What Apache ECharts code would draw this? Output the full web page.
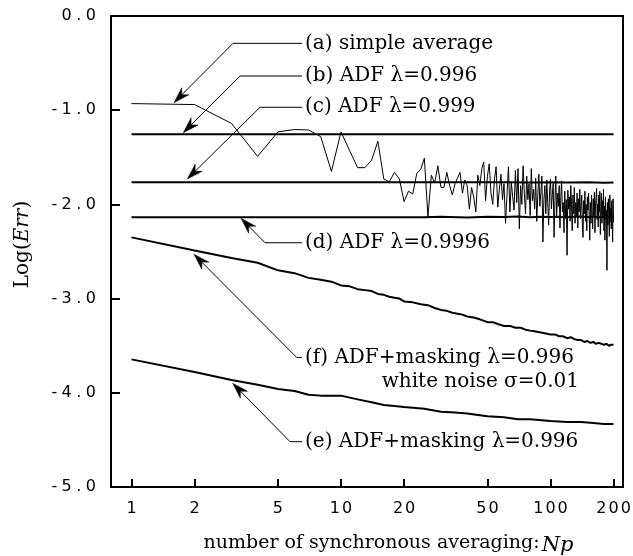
<!DOCTYPE html>
<html>
<head>
<meta charset="utf-8">
<script src="https://cdn.jsdelivr.net/npm/echarts@6/dist/echarts.min.js"></script>
<style>html,body{margin:0;padding:0;background:#fff}#c{width:633px;height:556px}</style>
</head>
<body>
<div id="c"></div>
<script>
// ---------- data ----------
const xTickLabels = [1, 2, 5, 10, 20, 50, 100, 200];
const yTickLabels = [-5, -4, -3, -2, -1, 0];

// (a) simple average, Np = 1..200
const seriesA = [
 -0.93,-0.94,-1.14,-1.49,-1.23,-1.205,-1.21,-1.28,-1.65,-1.23,
 -1.43,-1.61,-1.61,-1.53,-1.33,-1.73,-1.76,-1.66,-1.73,-1.97,
 -1.86,-1.89,-1.67,-1.63,-1.51,-2.13,-1.69,-1.77,-1.59,-1.82,
 -1.82,-1.66,-1.80,-1.90,-1.78,-1.72,-1.66,-1.88,-1.74,-1.80,
 -2.05,-1.82,-1.92,-2.08,-1.69,-1.80,-1.62,-1.55,-1.96,-1.70,
 -1.57,-1.88,-2.00,-1.74,-1.60,-2.03,-1.84,-1.68,-1.95,-1.78,
 -2.20,-1.90,-1.60,-2.08,-1.76,-1.92,-2.06,-1.64,-1.98,-1.62,
 -2.26,-1.80,-2.00,-1.59,-1.88,-2.10,-1.70,-1.95,-1.78,-2.12,
 -1.62,-1.96,-1.84,-2.05,-1.72,-2.18,-1.90,-1.68,-2.02,-1.86,
 -1.70,-2.40,-1.95,-1.80,-2.10,-1.74,-1.98,-2.22,-1.85,-1.73,
 -2.05,-1.90,-1.78,-2.35,-1.96,-1.70,-2.12,-1.88,-2.02,-1.80,
 -2.25,-1.92,-1.75,-2.08,-1.98,-2.30,-1.86,-2.15,-1.95,-2.54,
 -1.85,-2.05,-1.92,-2.18,-1.80,-2.00,-2.28,-1.90,-2.10,-1.82,
 -2.20,-1.98,-2.12,-1.88,-2.25,-1.94,-2.08,-1.84,-2.15,-2.02,
 -1.90,-2.22,-2.35,-1.96,-2.10,-1.86,-2.18,-2.00,-2.28,-1.92,
 -2.06,-1.88,-2.14,-2.38,-1.98,-2.20,-1.90,-2.10,-2.26,-1.94,
 -2.12,-1.87,-2.30,-2.02,-1.92,-1.83,-2.16,-2.00,-2.24,-1.90,
 -2.08,-1.86,-2.32,-2.04,-1.88,-2.20,-1.96,-2.12,-1.84,-2.28,
 -2.02,-2.38,-1.92,-2.16,-2.06,-2.70,-1.98,-2.22,-1.94,-2.12,
 -2.34,-1.90,-2.18,-2.04,-2.26,-1.96,-2.14,-2.40,-1.94,-2.19
];

// (b) ADF λ=0.996
const npB = [1, 200];
const seriesB = [-1.255, -1.255];

// (c) ADF λ=0.999
const npC = [1, 20, 40, 60, 80, 100, 120, 150, 180, 200];
const seriesC = [-1.765, -1.765, -1.766, -1.764, -1.767, -1.765, -1.768, -1.766, -1.769, -1.767];

// (d) ADF λ=0.9996
const npD = [1, 25, 30, 40, 50, 60, 70, 80, 90, 100, 110, 120, 130, 140, 150, 160, 170, 180, 190, 200];
const seriesD = [-2.137, -2.137, -2.132, -2.138, -2.131, -2.134, -2.129, -2.136, -2.131, -2.134,
                 -2.130, -2.136, -2.132, -2.129, -2.134, -2.131, -2.136, -2.130, -2.133, -2.131];

// (f) ADF+masking λ=0.996, white noise σ=0.01
const npF = [1,2,3,4,5,6,7,8,9,10,11,12,13,14,15,16,17,18,19,20,
             22,24,26,28,30,32,34,36,38,40,43,46,50,53,56,60,64,68,72,76,80,
             85,90,95,100,105,110,115,120,125,130,135,140,145,150,155,160,165,170,175,180,185,190,195,200];
const seriesF = [-2.35,-2.49,-2.57,-2.62,-2.70,-2.73,-2.78,-2.80,-2.82,-2.86,
                 -2.87,-2.90,-2.91,-2.92,-2.95,-2.96,-2.98,-2.99,-3.00,-3.03,
                 -3.04,-3.06,-3.07,-3.10,-3.12,-3.13,-3.15,-3.16,-3.17,-3.19,
                 -3.20,-3.22,-3.25,-3.25,-3.27,-3.29,-3.29,-3.31,-3.31,-3.33,-3.34,
                 -3.35,-3.36,-3.37,-3.38,-3.38,-3.40,-3.40,-3.42,-3.41,-3.43,-3.44,-3.44,
                 -3.46,-3.45,-3.47,-3.46,-3.48,-3.47,-3.48,-3.49,-3.48,-3.50,-3.49,-3.49];

// (e) ADF+masking λ=0.996
const npE = [1,2,3,4,5,6,7,8,9,10,12,14,16,18,20,25,30,35,40,50,60,70,80,100,120,140,160,180,200];
const seriesE = [-3.645,-3.78,-3.865,-3.915,-3.96,-3.98,-4.02,-4.03,-4.03,-4.03,
                 -4.07,-4.10,-4.13,-4.14,-4.15,-4.17,-4.20,-4.21,-4.22,-4.25,
                 -4.26,-4.28,-4.28,-4.30,-4.31,-4.31,-4.32,-4.33,-4.33];

// annotations (data coordinates: [Np, Log(Err)])
const annotations = [
  { lines: ['(a) simple average'], tip: [1.595, -0.92], elbow: [3.051, -0.29], end: [6.514, -0.29] },
  { lines: ['(b) ADF λ=0.996'], tip: [1.767, -1.239], elbow: [3.295, -0.637], end: [6.514, -0.637] },
  { lines: ['(c) ADF λ=0.999'], tip: [1.846, -1.73], elbow: [4.107, -0.969], end: [6.514, -0.969] },
  { lines: ['(d) ADF λ=0.9996'], tip: [3.332, -2.148], elbow: [4.337, -2.407], end: [6.514, -2.407] },
  { lines: ['(f) ADF+masking λ=0.996', 'white noise σ=0.01'], second: [15.64, -3.882], tip: [1.988, -2.53], elbow: [6.145, -3.625], end: [6.514, -3.625] },
  { lines: ['(e) ADF+masking λ=0.996'], tip: [3.041, -3.899], elbow: [5.708, -4.519], end: [6.514, -4.519] }
];

// ---------- chart ----------
const pairs = (xs, ys) => xs.map((x, i) => [x, ys[i]]);
const dataA = seriesA.map((v, i) => [i + 1, v]);

const SERIF = '"DejaVu Serif", serif';
const SANS = '"DejaVu Sans", sans-serif';
const charRich = { c: { width: 12.2, align: 'center', fontFamily: SANS, fontSize: 16, color: '#000' } };
const spread = s => s.split('').map(ch => '{c|' + ch + '}').join('');

const chart = echarts.init(document.getElementById('c'), null, { renderer: 'canvas' });
const lineSeries = (name, data, w) => ({
  name, type: 'line', data, symbol: 'none', animation: false,
  lineStyle: { color: '#000', width: w }, z: 3
});

chart.setOption({
  backgroundColor: '#fff',
  animation: false,
  grid: { left: 111, right: 10, top: 16, bottom: 69, show: true, borderColor: '#000', borderWidth: 2, containLabel: false, outerBoundsMode: 'none' },
  xAxis: {
    type: 'log', logBase: 10, min: 0.798, max: 221.9,
    axisLine: { show: true, onZero: false, lineStyle: { color: '#000', width: 2 } },
    axisTick: { show: true, inside: true, length: 8, lineStyle: { color: '#000', width: 2 }, customValues: xTickLabels },
    axisLabel: { show: true, margin: 14, fontSize: 16, fontFamily: SANS, color: '#000', customValues: xTickLabels, formatter: v => spread(String(Math.round(v))), rich: charRich },
    minorTick: { show: false }, splitLine: { show: false },
    name: '{a|number of synchronous averaging:}{b|Np}',
    nameLocation: 'middle', nameGap: 44,
    nameTextStyle: {
      padding: [0, 0, 0, 43],
      rich: {
        a: { fontFamily: SERIF, fontSize: 19, color: '#000' },
        b: { fontFamily: SERIF, fontSize: 21, fontStyle: 'italic', color: '#000', padding: [4, 0, 0, 2] }
      }
    }
  },
  yAxis: {
    type: 'value', min: -5, max: 0, interval: 1,
    axisLine: { show: true, onZero: false, lineStyle: { color: '#000', width: 2 } },
    axisTick: { show: true, inside: true, length: 9, lineStyle: { color: '#000', width: 2 } },
    axisLabel: { margin: 14, fontSize: 16, fontFamily: SANS, color: '#000', formatter: v => spread(v.toFixed(1)), rich: charRich },
    splitLine: { show: false },
    name: '{a|Log(}{b|Err}{a|)}',
    nameLocation: 'middle', nameRotate: 90, nameGap: 78,
    nameTextStyle: {
      padding: [0, 0, 0, 14],
      rich: {
        a: { fontFamily: SERIF, fontSize: 20, color: '#000' },
        b: { fontFamily: SERIF, fontSize: 20, fontStyle: 'italic', color: '#000' }
      }
    }
  },
  series: [
    lineSeries('a', dataA, 1),
    lineSeries('b', pairs(npB, seriesB), 2),
    lineSeries('c', pairs(npC, seriesC), 2),
    lineSeries('d', pairs(npD, seriesD), 2),
    lineSeries('f', pairs(npF, seriesF), 2),
    lineSeries('e', pairs(npE, seriesE), 2)
  ]
});

// annotation graphics anchored to data coordinates
const px = p => chart.convertToPixel({ gridIndex: 0 }, p);
const graphics = [];
annotations.forEach(a => {
  const T = px(a.tip), E = px(a.elbow), R = px(a.end);
  const dx = T[0] - E[0], dy = T[1] - E[1];
  const len = Math.hypot(dx, dy);
  const ux = dx / len, uy = dy / len, nx = -uy, ny = ux;
  const L = 16, W = 5, Nn = 11;
  const B = [T[0] - ux * L, T[1] - uy * L];
  const Nt = [T[0] - ux * Nn, T[1] - uy * Nn];
  graphics.push({
    type: 'polyline', silent: true, z: 10,
    shape: { points: [Nt, E, R] },
    style: { stroke: '#000', lineWidth: 1, fill: null }
  });
  graphics.push({
    type: 'polygon', silent: true, z: 10,
    shape: { points: [T, [B[0] + nx * W, B[1] + ny * W], Nt, [B[0] - nx * W, B[1] - ny * W]] },
    style: { fill: '#000', stroke: '#000', lineWidth: 0.5 }
  });
  graphics.push({
    type: 'text', silent: true, z: 10,
    style: { text: a.lines[0], x: R[0] + 3, y: R[1], font: '20px ' + SERIF, fill: '#000', align: 'left', verticalAlign: 'middle' }
  });
  if (a.second) {
    const S = px(a.second);
    graphics.push({
      type: 'text', silent: true, z: 10,
      style: { text: a.lines[1], x: S[0], y: S[1], font: '20px ' + SERIF, fill: '#000', align: 'left', verticalAlign: 'middle' }
    });
  }
});
chart.setOption({ graphic: graphics });
</script>
</body>
</html>
